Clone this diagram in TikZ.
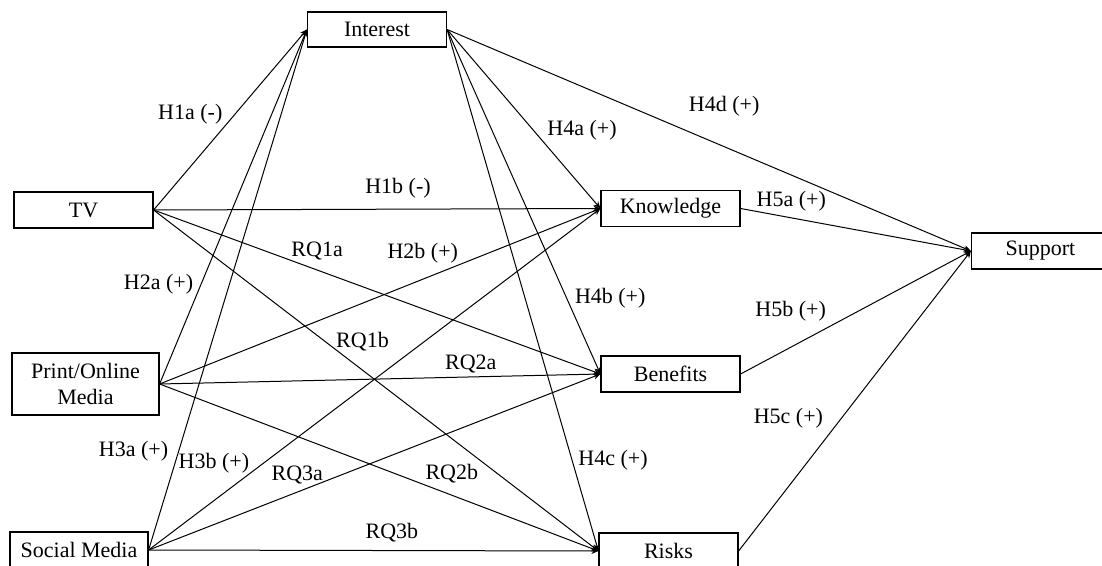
\documentclass[tikz,border=0pt]{standalone}
\usepackage{fontspec}
\setmainfont{Liberation Serif}
\usetikzlibrary{arrows.meta}
\usetikzlibrary{scopes}

\begin{document}
\begin{tikzpicture}[x=0.5pt,y=-0.5pt,font=\fontsize{11}{13}\selectfont]
\useasboundingbox (0,0) rectangle (1102,566);
\begin{scope}[every node/.style={draw,line width=0.6pt,inner sep=0pt,
              minimum width=69.5pt,minimum height=18pt,align=center}]
    \node[minimum height=17.5pt] (int) at (377,29.5) {Interest};
    \node (tv) at (83.5,210) {TV};
    \node[minimum width=73.5pt,minimum height=31pt] (pom) at (85.5,384) {Print/Online\\Media};
    \node[minimum width=69pt] (sm) at (79,550) {Social Media};
    \node (kn) at (670.5,208.5) {Knowledge};
    \node (ben) at (670.5,374) {Benefits};
    \node (risk) at (668.5,551) {Risks};
    \node[minimum width=69pt] (sup) at (1040.5,251) {Support};
\end{scope}

\begin{scope}[>={Stealth[length=3.5pt,width=3pt]},
              every node/.style={inner sep=1pt},
              every edge/.style={draw,line width=0.5pt}]
    % TV
    \path [->] (tv.east) edge node[pos=.53,left=5pt] {H1a (-)} (int.west);
    \path [->] (tv.east) edge node[pos=.547,above=4pt] {H1b (-)} (kn.west);
    \path [->] (tv.east) edge node[pos=.366,above=3.5pt] {RQ1a} (ben.west);
    \path [->] (tv.east) edge node[pos=.387,right=4pt] {RQ1b} (risk.west);
    % print / online
    \path [->] (pom.east) edge node[pos=.282,left=2.75pt] {H2a (+)} (int.west);
    \path [->] (pom.east) edge node[pos=.597,above=7pt] {H2b (+)} (kn.west);
    \path [->] (pom.east) edge node[pos=.706,above=.5pt] {RQ2a} (ben.west);
    \path [->] (pom.east) edge node[pos=.666,above=5pt] {RQ2b} (risk.west);
    % social
    \path [->] (sm.east) edge node[pos=.19,left=4pt] {H3a (+)} (int.west);
    \path [->] (sm.east) edge node[pos=.228,anchor=south east,yshift=-2pt] {H3b (+)} (kn.west);
    \path [->] (sm.east) edge node[pos=.329,above=3pt] {RQ3a} (ben.west);
    \path [->] (sm.east) edge node[pos=.541,above=3pt] {RQ3b} (risk.west);
    % interest
    \path [->] (int.east) edge node[pos=.56,right=6pt] {H4a (+)} (kn.west);
    \path [->] (int.east) edge node[pos=.779,right=3pt] {H4b (+)} (ben.west);
    \path [->] (int.east) edge node[pos=.825,right=2pt] {H4c (+)} (risk.west);
    \path [->] (int.east) edge node[pos=.529,above=14pt] {H4d (+)} (sup.west);
    % support
    \path [->] (kn.east) edge node[pos=.22,above=2pt] {H5a (+)} (sup.west);
    \path [->] (ben.east) edge node[pos=.39,above left=1pt] {H5b (+)} (sup.west);
    \path [->] (risk.east) edge node[pos=.443,left=8pt] {H5c (+)} (sup.west);
\end{scope}
\end{tikzpicture}
\end{document}
